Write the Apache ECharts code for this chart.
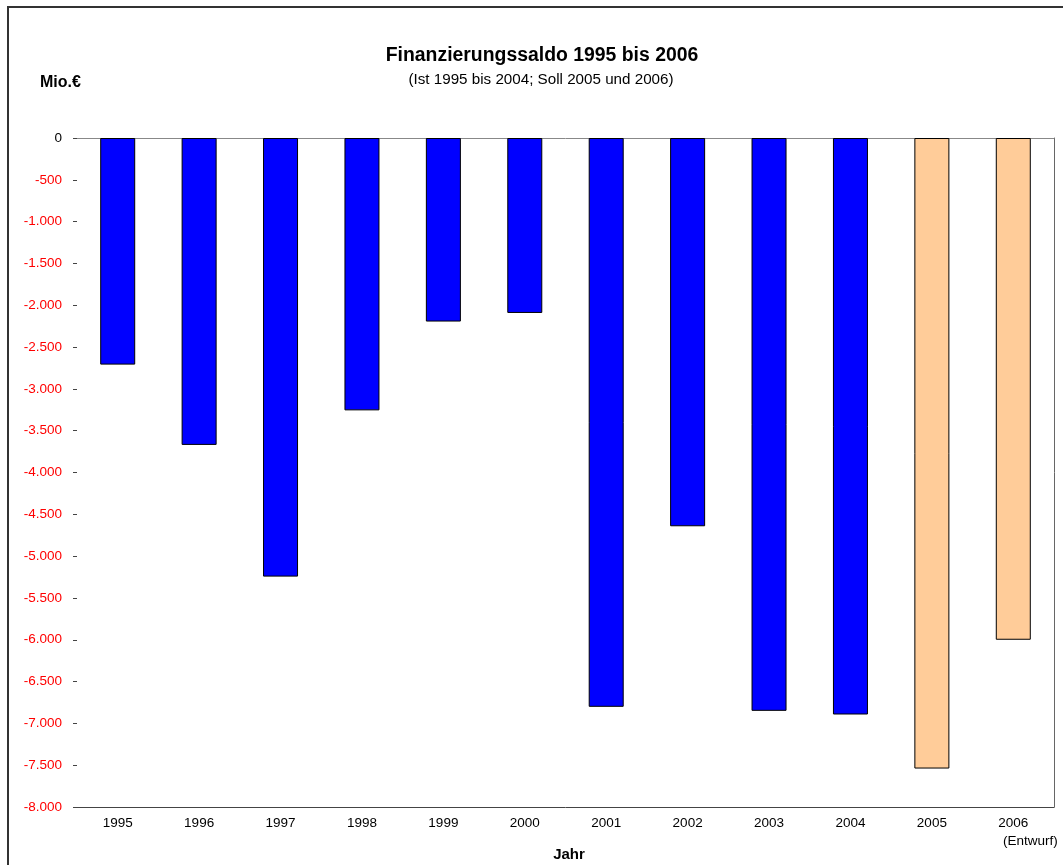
<!DOCTYPE html>
<html>
<head>
<meta charset="utf-8">
<title>Finanzierungssaldo 1995 bis 2006</title>
<script src="https://cdn.jsdelivr.net/npm/echarts@6/dist/echarts.min.js"></script>
<style>
  html, body { margin: 0; padding: 0; background: #fff; }
  #chart { width: 1063px; height: 865px; }
</style>
</head>
<body>
<div id="chart"></div>
<script>
// Jahre (Kategorien) und Zusatz unter der Jahreszahl
const years = ['1995', '1996', '1997', '1998', '1999', '2000', '2001', '2002', '2003', '2004', '2005', '2006'];
const yearNotes = ['', '', '', '', '', '', '', '', '', '', '', '(Entwurf)'];
// Finanzierungssaldo in Mio. €
const saldo = [-2710, -3670, -5245, -3257, -2195, -2092, -6802, -4643, -6850, -6894, -7540, -6000];
// Ist = abgeschlossene Jahre, Soll = Haushaltsansatz
const status = ['Ist', 'Ist', 'Ist', 'Ist', 'Ist', 'Ist', 'Ist', 'Ist', 'Ist', 'Ist', 'Soll', 'Soll'];
// Achsenbereich der Werteachse
const yTicks = { min: -8000, max: 0, step: 500 };

const statusColor = { Ist: '#0000FF', Soll: '#FFCC99' };
const FONT = '"Liberation Sans", Arial, sans-serif';

function fmtDe(v) {
  const s = String(Math.abs(v)).replace(/\B(?=(\d{3})+(?!\d))/g, '.');
  return (v < 0 ? '-' : '') + s;
}

const chart = echarts.init(document.getElementById('chart'), null, { renderer: 'canvas' });

chart.setOption({
  backgroundColor: '#ffffff',
  animation: false,
  textStyle: { fontFamily: FONT },
  title: [
    {
      text: 'Finanzierungssaldo 1995 bis 2006',
      left: 537, top: 41, textAlign: 'center',
      textStyle: { fontFamily: FONT, fontSize: 19.4, fontWeight: 'bold', color: '#000' }
    },
    {
      text: '(Ist 1995 bis 2004; Soll 2005 und 2006)',
      left: 536, top: 67, textAlign: 'center',
      textStyle: { fontFamily: FONT, fontSize: 15.2, fontWeight: 'normal', color: '#000' }
    },
    {
      text: 'Mio.€',
      left: 35, top: 70,
      textStyle: { fontFamily: FONT, fontSize: 16, fontWeight: 'bold', color: '#000' }
    },
    {
      // Achsentitel der Kategorienachse
      text: 'Jahr',
      left: 564, top: 842, textAlign: 'center',
      textStyle: { fontFamily: FONT, fontSize: 15, fontWeight: 'bold', color: '#000' }
    }
  ],
  graphic: [
    {
      type: 'rect',
      shape: { x: 8, y: 7, width: 1100, height: 900 },
      style: { fill: 'none', stroke: '#333', lineWidth: 2 },
      silent: true
    }
  ],
  grid: { left: 77, right: 9, top: 138, bottom: 58, containLabel: false, outerBoundsMode: 'none' },
  xAxis: [
    {
      type: 'category',
      data: years,
      position: 'bottom',
      axisLine: { onZero: false, lineStyle: { color: '#444', width: 1 } },
      axisTick: { show: false },
      axisLabel: {
        interval: 0,
        margin: 8,
        fontFamily: FONT,
        fontSize: 13.5,
        color: '#000',
        formatter: (v, i) => '{y|' + v + '}' + (yearNotes[i] ? '\n{n|' + yearNotes[i] + '}' : ''),
        rich: {
          y: { fontFamily: FONT, fontSize: 13.5, color: '#000', lineHeight: 16 },
          n: { fontFamily: FONT, fontSize: 13.5, color: '#000', lineHeight: 20, padding: [0, 0, 0, 34] }
        }
      }
    },
    {
      type: 'category',
      data: years,
      position: 'top',
      axisLine: { onZero: false, lineStyle: { color: '#888', width: 1 } },
      axisTick: { show: false },
      axisLabel: { show: false }
    }
  ],
  yAxis: [
    {
      type: 'value',
      min: yTicks.min,
      max: yTicks.max,
      interval: yTicks.step,
      axisLine: { show: false },
      axisTick: { show: true, length: 4, lineStyle: { color: '#444' } },
      splitLine: { show: false },
      axisLabel: {
        margin: 15,
        fontFamily: FONT,
        fontSize: 13.5,
        color: (v) => Number(v) === 0 ? '#000' : '#FF0000',
        formatter: (v) => fmtDe(v)
      }
    },
    {
      type: 'value',
      position: 'right',
      min: yTicks.min,
      max: yTicks.max,
      interval: yTicks.step,
      axisLine: { show: true, lineStyle: { color: '#666' } },
      axisTick: { show: false },
      axisLabel: { show: false },
      splitLine: { show: false }
    }
  ],
  series: [
    {
      type: 'bar',
      xAxisIndex: 0,
      yAxisIndex: 0,
      barWidth: '43%',
      data: saldo.map((v, i) => ({
        value: v,
        itemStyle: { color: statusColor[status[i]] }
      })),
      itemStyle: { borderColor: '#000', borderWidth: 1 }
    }
  ]
});
</script>
</body>
</html>
